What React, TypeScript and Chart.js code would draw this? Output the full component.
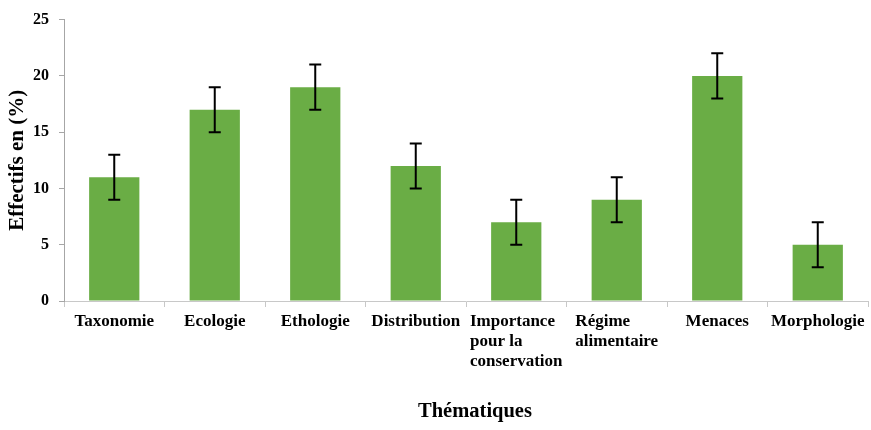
import React, { useEffect, useRef } from "react";
import { Chart, registerables } from "chart.js";

Chart.register(...registerables);

const categories: string[][] = [
  ["Taxonomie"],
  ["Ecologie"],
  ["Ethologie"],
  ["Distribution"],
  ["Importance", "pour la", "conservation"],
  ["Régime", "alimentaire"],
  ["Menaces"],
  ["Morphologie"],
];
const values: number[] = [11, 17, 19, 12, 7, 9, 20, 5];
const errors: number[] = [2, 2, 2, 2, 2, 2, 2, 2];
const yTicks: number[] = [0, 5, 10, 15, 20, 25];
const yTitle = "Effectifs en (%)";
const xTitle = "Thématiques";

const FONT = '"Liberation Serif", "Times New Roman", serif';

const errorBarPlugin = {
  id: "errorBars",
  afterDatasetsDraw(chart: any) {
    const ctx = chart.ctx;
    const meta = chart.getDatasetMeta(0);
    const yScale = chart.scales.y;
    ctx.save();
    ctx.strokeStyle = "#000000";
    ctx.lineWidth = 2;
    meta.data.forEach((bar: any, i: number) => {
      const x = bar.x;
      const yHi = yScale.getPixelForValue(values[i] + errors[i]);
      const yLo = yScale.getPixelForValue(values[i] - errors[i]);
      ctx.beginPath();
      ctx.moveTo(x, yHi);
      ctx.lineTo(x, yLo);
      ctx.moveTo(x - 6, yHi);
      ctx.lineTo(x + 6, yHi);
      ctx.moveTo(x - 6, yLo);
      ctx.lineTo(x + 6, yLo);
      ctx.stroke();
    });
    ctx.restore();
  },
};

const xLabelPlugin = {
  id: "xLabels",
  afterDraw(chart: any) {
    const ctx = chart.ctx;
    const xScale = chart.scales.x;
    const area = chart.chartArea;
    ctx.save();
    ctx.fillStyle = "#000000";
    ctx.font = `bold 17px ${FONT}`;
    ctx.textAlign = "left";
    ctx.textBaseline = "middle";
    categories.forEach((lines, i) => {
      const cx = xScale.getPixelForTick(i);
      const maxW = Math.max(...lines.map((l) => ctx.measureText(l).width));
      const left = cx - maxW / 2;
      lines.forEach((line, j) => {
        ctx.fillText(line, left, area.bottom + 21 + j * 20);
      });
    });
    ctx.font = `bold 20.5px ${FONT}`;
    ctx.textAlign = "center";
    ctx.fillText(xTitle, (area.left + area.right) / 2 + 9, 412);
    ctx.restore();
  },
};

export default function App() {
  const canvasRef = useRef<HTMLCanvasElement | null>(null);

  useEffect(() => {
    document.body.style.margin = "0";
    const canvas = canvasRef.current;
    if (!canvas) return;
    const chart = new Chart(canvas, {
      type: "bar",
      data: {
        labels: categories.map((c) => c.join(" ")),
        datasets: [
          {
            data: values,
            backgroundColor: "#6AAD45",
            borderWidth: 0,
            barPercentage: 0.5,
            categoryPercentage: 1,
          },
        ],
      },
      options: {
        responsive: false,
        animation: false,
        maintainAspectRatio: false,
        layout: { padding: { left: 0, top: 15, right: 3, bottom: 0 } },
        plugins: {
          legend: { display: false },
          tooltip: { enabled: false },
        },
        scales: {
          x: {
            grid: {
              display: true,
              drawOnChartArea: false,
              drawTicks: true,
              tickLength: 6,
              color: "#C8C8C8",
              offset: true,
            },
            border: { display: true, color: "#C8C8C8", width: 1 },
            ticks: { display: false },
            afterFit(scale: any) {
              scale.height = 129;
            },
          },
          y: {
            min: 0,
            max: 25,
            afterBuildTicks(scale: any) {
              scale.ticks = yTicks.map((v) => ({ value: v }));
            },
            grid: {
              display: true,
              drawOnChartArea: false,
              drawTicks: true,
              tickLength: 5,
              color: "#A6A6A6",
            },
            border: { display: true, color: "#A6A6A6", width: 1 },
            ticks: {
              color: "#000000",
              padding: 10,
              font: { family: FONT, size: 16, weight: "bold" },
            },
            title: {
              display: true,
              text: yTitle,
              color: "#000000",
              padding: { top: 5, bottom: 0 },
              font: { family: FONT, size: 21, weight: "bold" },
            },
            afterFit(scale: any) {
              scale.width = 64;
            },
          },
        },
      },
      plugins: [errorBarPlugin, xLabelPlugin],
    } as any);
    return () => chart.destroy();
  }, []);

  return (
    <div style={{ width: 871, height: 430 }}>
      <canvas ref={canvasRef} width={871} height={430} style={{ display: "block" }} />
    </div>
  );
}
